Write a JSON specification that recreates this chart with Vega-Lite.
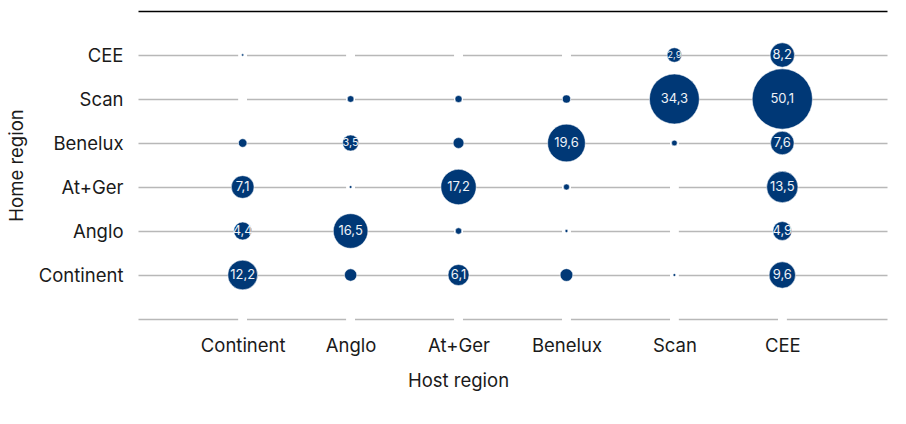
{
  "$schema": "https://vega.github.io/schema/vega-lite/v6.json",
  "width": 749,
  "height": 286,
  "padding": {"left": 7, "top": 11, "right": 5, "bottom": 5},
  "config": {
    "font": "Inter",
    "view": {"stroke": null},
    "locale": {"number": {"decimal": ",", "thousands": ".", "grouping": [3], "currency": ["", " €"]}}
  },
  "data": {
    "values": [
      {"home": "Continent", "host": "Continent", "value": 12.2},
      {"home": "Continent", "host": "Anglo", "value": 2.1},
      {"home": "Continent", "host": "At+Ger", "value": 6.1},
      {"home": "Continent", "host": "Benelux", "value": 2.2},
      {"home": "Continent", "host": "Scan", "value": 0.1},
      {"home": "Continent", "host": "CEE", "value": 9.6},
      {"home": "Anglo", "host": "Continent", "value": 4.4},
      {"home": "Anglo", "host": "Anglo", "value": 16.5},
      {"home": "Anglo", "host": "At+Ger", "value": 0.55},
      {"home": "Anglo", "host": "Benelux", "value": 0.12},
      {"home": "Anglo", "host": "CEE", "value": 4.9},
      {"home": "At+Ger", "host": "Continent", "value": 7.1},
      {"home": "At+Ger", "host": "Anglo", "value": 0.1},
      {"home": "At+Ger", "host": "At+Ger", "value": 17.2},
      {"home": "At+Ger", "host": "Benelux", "value": 0.5},
      {"home": "At+Ger", "host": "CEE", "value": 13.5},
      {"home": "Scan", "host": "Anglo", "value": 0.6},
      {"home": "Scan", "host": "At+Ger", "value": 0.7},
      {"home": "Scan", "host": "Benelux", "value": 0.9},
      {"home": "Scan", "host": "Scan", "value": 34.3},
      {"home": "Scan", "host": "CEE", "value": 50.1},
      {"home": "Benelux", "host": "Continent", "value": 1.0},
      {"home": "Benelux", "host": "Anglo", "value": 3.5},
      {"home": "Benelux", "host": "At+Ger", "value": 1.6},
      {"home": "Benelux", "host": "Benelux", "value": 19.6},
      {"home": "Benelux", "host": "Scan", "value": 0.45},
      {"home": "Benelux", "host": "CEE", "value": 7.6},
      {"home": "CEE", "host": "Continent", "value": 0.07},
      {"home": "CEE", "host": "Scan", "value": 2.9},
      {"home": "CEE", "host": "CEE", "value": 8.2}
    ]
  },
  "resolve": {"axis": {"x": "independent"}, "scale": {"size": "independent"}},
  "layer": [
    {
      "mark": {"type": "rule", "color": "#ffffff", "strokeWidth": 8},
      "encoding": {
        "x": {
          "field": "host",
          "type": "nominal",
          "scale": {"type": "point", "domain": ["Continent", "Anglo", "At+Ger", "Benelux", "Scan", "CEE"], "padding": 0.97},
          "axis": {"orient": "top", "labels": false, "ticks": false, "grid": false, "title": null, "domain": true, "domainColor": "#000000", "domainWidth": 1.5, "offset": 33}
        }
      }
    },
    {
      "mark": {"type": "circle", "color": "#003876", "opacity": 1, "stroke": "#ffffff", "strokeWidth": 0.5},
      "encoding": {
        "x": {
          "field": "host",
          "type": "nominal",
          "scale": {"type": "point", "domain": ["Continent", "Anglo", "At+Ger", "Benelux", "Scan", "CEE"], "padding": 0.97},
          "axis": {"orient": "bottom", "title": "Host region", "domain": false, "ticks": false, "grid": false, "labelAngle": 0, "labelFontSize": 18.5, "labelColor": "#1a1a1a", "labelPadding": 6, "titleFontSize": 18.5, "titleFontWeight": "normal", "titleColor": "#1a1a1a", "titlePadding": 17, "titleX": 320}
        },
        "y": {
          "field": "home",
          "type": "nominal",
          "scale": {"type": "point", "domain": ["CEE", "Scan", "Benelux", "At+Ger", "Anglo", "Continent", " "], "padding": 0.25},
          "axis": {"title": "Home region", "domain": false, "ticks": false, "grid": true, "gridColor": "#b8b8b8", "gridWidth": 1.5, "labelFontSize": 18.5, "labelColor": "#1a1a1a", "labelPadding": 15, "titleFontSize": 18.5, "titleFontWeight": "normal", "titleColor": "#1a1a1a", "titlePadding": 12, "titleY": 121}
        },
        "size": {"field": "value", "type": "quantitative", "scale": {"type": "linear", "domain": [0, 50.1], "range": [0, 3632]}, "legend": null}
      }
    },
    {
      "transform": [{"filter": "datum.value >= 2.5"}],
      "mark": {"type": "text", "color": "#eef2f7", "baseline": "middle", "align": "center"},
      "encoding": {
        "x": {"field": "host", "type": "nominal", "scale": {"type": "point", "domain": ["Continent", "Anglo", "At+Ger", "Benelux", "Scan", "CEE"], "padding": 0.97}, "axis": null},
        "y": {"field": "home", "type": "nominal"},
        "text": {"field": "value", "type": "quantitative", "format": ".1f"},
        "size": {"field": "value", "type": "quantitative", "scale": {"type": "linear", "domain": [2.9, 4.4], "range": [9.5, 13], "clamp": true}, "legend": null}
      }
    }
  ]
}
